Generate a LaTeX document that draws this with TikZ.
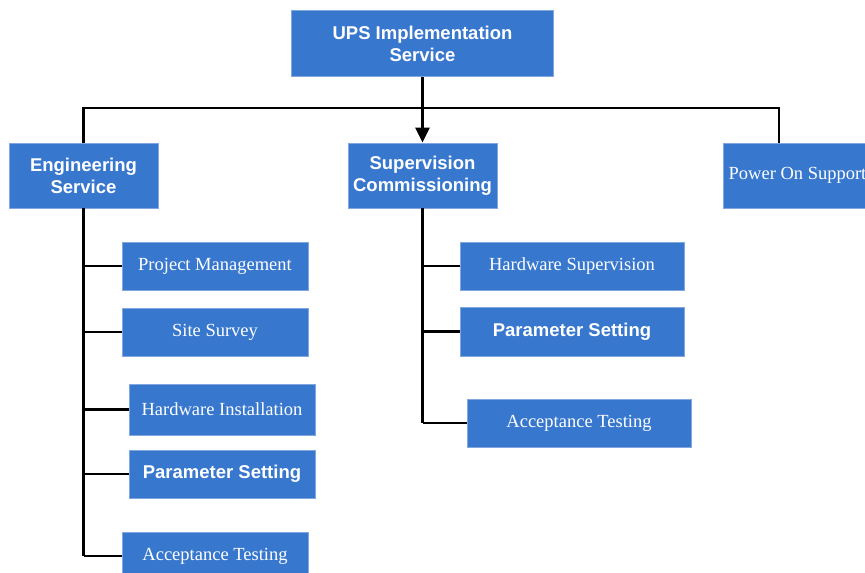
\documentclass[tikz,border=0pt]{standalone}
\usepackage{fontspec}
\setmainfont{Liberation Serif}
\newfontfamily\boxsans{Liberation Sans}
\usetikzlibrary{arrows.meta}
\definecolor{upsfill}{RGB}{55,119,206}
\definecolor{upsedge}{RGB}{130,166,222}
\begin{document}
\begin{tikzpicture}[x=1pt,y=-1pt,
  box/.style={rectangle, fill=upsfill, draw=upsedge, line width=0.7pt, text=white, inner sep=0pt, align=center, font=\fontsize{18.5}{22}\selectfont},
  boldbox/.style={box, font=\boxsans\bfseries\fontsize{18.5}{22}\selectfont},
  conn/.style={draw=black, line width=2.8pt},
  connarrow/.style={conn, -{Triangle[width=14pt,length=15pt]}}]
\useasboundingbox (0,0) rectangle (865,573);
% top level
\node[boldbox, minimum width=262pt, minimum height=66pt] (top) at (422.5,43.5) {UPS Implementation\\Service};
% second level
\node[boldbox, minimum width=149pt, minimum height=65pt] (eng) at (83.5,175.5) {Engineering\\Service};
\node[boldbox, minimum width=149pt, minimum height=65pt] (sup) at (422.5,175.5) {Supervision\\Commissioning};
\node[box, minimum width=149pt, minimum height=65pt] (pow) at (797.5,175.5) {Power On Support};
% engineering children
\node[box, minimum width=186pt, minimum height=48pt] (pm) at (215,266) {Project Management};
\node[box, minimum width=186pt, minimum height=48pt] (ss) at (215,332) {Site Survey};
\node[box, minimum width=186pt, minimum height=51pt] (hi) at (222,409.5) {Hardware Installation};
\node[boldbox, minimum width=186pt, minimum height=48pt] (ps1) at (222,474) {Parameter Setting};
\node[box, minimum width=186pt, minimum height=48pt] (at1) at (215,556) {Acceptance Testing};
% supervision children
\node[box, minimum width=224pt, minimum height=48pt] (hs) at (572,266) {Hardware Supervision};
\node[boldbox, minimum width=224pt, minimum height=49pt] (ps2) at (572,331.5) {Parameter Setting};
\node[box, minimum width=224pt, minimum height=48pt] (at2) at (579,423) {Acceptance Testing};
% bus
\coordinate (busL) at (83.5,108);
\coordinate (busR) at (779,108);
\draw[conn] (eng.north) -- (busL) -- (busR) -- (busR |- pow.north);
\draw[connarrow] (top.south) -- (sup.north);
% engineering trunk
\draw[conn] (eng.south) -- (eng.south |- at1.west);
\draw[conn] (eng.south |- pm.west) -- (pm.west);
\draw[conn] (eng.south |- ss.west) -- (ss.west);
\draw[conn] (eng.south |- hi.west) -- (hi.west);
\draw[conn] (eng.south |- ps1.west) -- (ps1.west);
\draw[conn] (eng.south |- at1.west) -- (at1.west);
% supervision trunk
\draw[conn] (sup.south) -- (sup.south |- at2.west);
\draw[conn] (sup.south |- hs.west) -- (hs.west);
\draw[conn] (sup.south |- ps2.west) -- (ps2.west);
\draw[conn] (sup.south |- at2.west) -- (at2.west);
\end{tikzpicture}
\end{document}
